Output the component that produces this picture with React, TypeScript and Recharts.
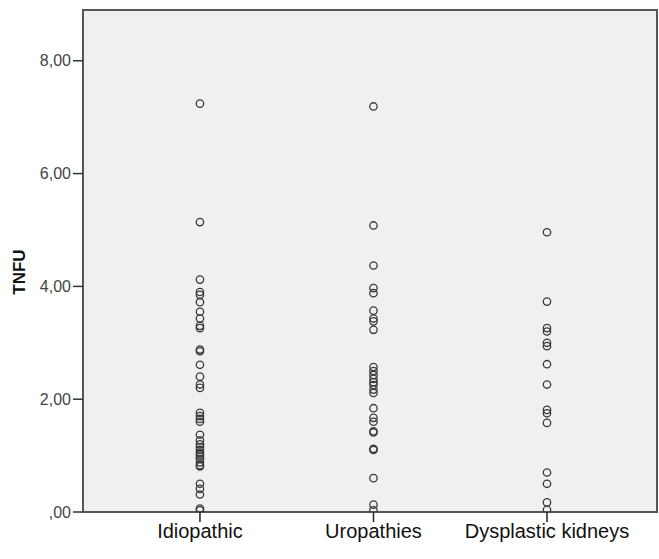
import { ScatterChart, Scatter, XAxis, YAxis, ReferenceArea } from "recharts";

const categories = ["Idiopathic", "Uropathies", "Dysplastic kidneys"];

const idiopathic = [
  7.24, 5.14, 4.12, 3.9, 3.85, 3.72, 3.55, 3.43, 3.3, 3.26, 2.88, 2.85, 2.61,
  2.4, 2.26, 2.2, 1.76, 1.7, 1.65, 1.6, 1.37, 1.27, 1.2, 1.15, 1.1, 1.05, 1.02,
  0.98, 0.94, 0.88, 0.83, 0.81, 0.5, 0.41, 0.31, 0.06, 0.03,
];

const uropathies = [
  7.19, 5.08, 4.37, 3.97, 3.88, 3.57, 3.43, 3.38, 3.23, 2.57, 2.5, 2.43, 2.36,
  2.3, 2.25, 2.17, 2.11, 1.84, 1.67, 1.6, 1.43, 1.41, 1.12, 1.1, 0.6, 0.13, 0.03,
];

const dysplastic = [
  4.96, 3.73, 3.26, 3.2, 3.0, 2.94, 2.62, 2.26, 1.81, 1.75, 1.58, 0.7, 0.5,
  0.17, 0.04,
];

const yTicks = [0, 2, 4, 6, 8];

const FONT = "'Liberation Sans', Arial, sans-serif";

const toPoints = (values: number[], pos: number) =>
  values.map((v) => ({ x: pos, y: v }));

const Ring = (props: any) => (
  <circle
    cx={props.cx}
    cy={props.cy}
    r={3.7}
    fill="none"
    stroke="#3a3a3a"
    strokeWidth={1.3}
  />
);

const fmt = (v: number) => (v === 0 ? ",00" : v.toFixed(2).replace(".", ","));

export default function App() {
  return (
    <div style={{ position: "absolute", left: 0, top: 0, background: "#fff" }}>
      <ScatterChart
        width={659}
        height={559}
        margin={{ top: 10, right: 2, bottom: 0, left: 0 }}
      >
        <ReferenceArea
          x1={0.326}
          x2={3.634}
          y1={0}
          y2={8.9}
          fill="#f0f0f0"
          fillOpacity={1}
          stroke="#555"
          strokeWidth={2}
        />
        <XAxis
          type="number"
          dataKey="x"
          domain={[0.326, 3.634]}
          ticks={[1, 2, 3]}
          tickFormatter={(v: number) => categories[v - 1]}
          allowDataOverflow
          height={47}
          tickSize={10}
          axisLine={{ stroke: "#555", strokeWidth: 2 }}
          tickLine={{ stroke: "#222", strokeWidth: 1.5 }}
          tick={{ fill: "#111", fontSize: 20, fontFamily: FONT }}
        />
        <YAxis
          type="number"
          dataKey="y"
          domain={[0, 8.9]}
          ticks={yTicks}
          tickFormatter={fmt}
          allowDataOverflow
          width={83}
          tickSize={10}
          tickMargin={2}
          axisLine={{ stroke: "#555", strokeWidth: 2 }}
          tickLine={{ stroke: "#333", strokeWidth: 1.5 }}
          tick={{ fill: "#444", fontSize: 16, fontFamily: FONT }}
          label={{
            content: () => (
              <text
                x={25}
                y={272}
                transform="rotate(-90 25 272)"
                textAnchor="middle"
                fontFamily={FONT}
                fontWeight="bold"
                fontSize={17}
                fill="#111"
              >
                TNFU
              </text>
            ),
          }}
        />
        <Scatter
          data={toPoints(idiopathic, 1)}
          shape={Ring}
          isAnimationActive={false}
        />
        <Scatter
          data={toPoints(uropathies, 2)}
          shape={Ring}
          isAnimationActive={false}
        />
        <Scatter
          data={toPoints(dysplastic, 3)}
          shape={Ring}
          isAnimationActive={false}
        />
      </ScatterChart>
    </div>
  );
}
